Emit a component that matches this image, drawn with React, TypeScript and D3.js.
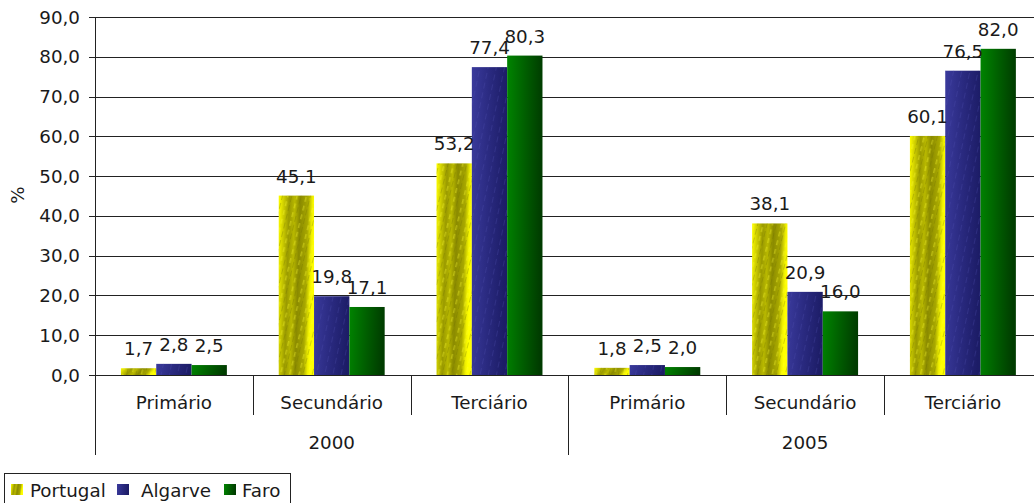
import React from "react";
import * as d3 from "d3";

const years = ["2000", "2005"];
const sectors = ["Primário", "Secundário", "Terciário"];
const seriesNames = ["Portugal", "Algarve", "Faro"];
const portugal = [1.7, 45.1, 53.2, 1.8, 38.1, 60.1];
const algarve = [2.8, 19.8, 77.4, 2.5, 20.9, 76.5];
const faro = [2.5, 17.1, 80.3, 2.0, 16.0, 82.0];
const yTicks = [0, 10, 20, 30, 40, 50, 60, 70, 80, 90];

const W = 1034;
const H = 503;
const FONT = "DejaVu Sans, Verdana, sans-serif";
const TXT = "#1a1a1a";
const FS = 18.3;

const fmt = (v: number) => d3.format(".1f")(v).replace(".", ",");

export default function App() {
  const left = 95;
  const catW = 157.8;
  const keys = years.flatMap((y) => sectors.map((s) => `${y}|${s}`));
  const x0 = d3.scaleBand<string>().domain(keys).range([left, left + catW * keys.length]).padding(0);
  const x1 = d3
    .scaleBand<string>()
    .domain(seriesNames)
    .range([0, x0.bandwidth()])
    .paddingInner(0)
    .paddingOuter(0.734);
  const y = d3.scaleLinear().domain([0, 90]).range([375, 17]);
  const values = [portugal, algarve, faro];
  const fills = ["url(#gPor)", "url(#gAlg)", "url(#gFar)"];
  const overlays = ["url(#pPor)", "url(#pAlg)", null];
  const right = left + catW * keys.length;
  const yearW = catW * sectors.length;

  return (
    <svg
      width={W}
      height={H}
      style={{ position: "absolute", left: 0, top: 0, background: "#fff" }}
      fontFamily={FONT}
    >
      <defs>
        <linearGradient id="gPor" x1="0" y1="0" x2="1" y2="0.15">
          <stop offset="0" stopColor="#ffff00" />
          <stop offset="0.12" stopColor="#d6d600" />
          <stop offset="0.3" stopColor="#9a9a00" />
          <stop offset="0.45" stopColor="#b8b800" />
          <stop offset="0.6" stopColor="#8a8a00" />
          <stop offset="0.82" stopColor="#a8a800" />
          <stop offset="0.94" stopColor="#f0f000" />
          <stop offset="1" stopColor="#ffff00" />
        </linearGradient>
        <linearGradient id="gAlg" x1="0" y1="0" x2="1" y2="0.1">
          <stop offset="0" stopColor="#3a3a9c" />
          <stop offset="0.5" stopColor="#2a2a80" />
          <stop offset="1" stopColor="#1c1c66" />
        </linearGradient>
        <linearGradient id="gFar" x1="0" y1="0" x2="1" y2="0.1">
          <stop offset="0" stopColor="#008400" />
          <stop offset="0.55" stopColor="#005c00" />
          <stop offset="1" stopColor="#003c00" />
        </linearGradient>
        <pattern id="pPor" width="9" height="9" patternUnits="userSpaceOnUse" patternTransform="rotate(14)">
          <rect x="2" y="0" width="1.5" height="5" fill="#ffff30" opacity="0.35" />
          <rect x="6" y="3" width="1" height="6" fill="#707000" opacity="0.3" />
        </pattern>
        <pattern id="pAlg" width="8" height="10" patternUnits="userSpaceOnUse" patternTransform="rotate(12)">
          <rect x="3" y="0" width="1" height="6" fill="#5050b0" opacity="0.3" />
        </pattern>
      </defs>

      {/* gridlines */}
      {yTicks.map((t) => (
        <g key={t}>
          <line x1={left - 6} x2={right} y1={Math.round(y(t)) + 0.5} y2={Math.round(y(t)) + 0.5} stroke="#222" strokeWidth={1} />
          <text x={80} y={y(t)} dy="0.36em" textAnchor="end" fontSize={FS} fill={TXT}>
            {fmt(t)}
          </text>
        </g>
      ))}

      {/* bars */}
      {keys.map((k, i) =>
        seriesNames.map((s, j) => {
          const v = values[j][i];
          const bx = (x0(k) as number) + (x1(s) as number);
          const ov = overlays[j];
          return (
            <g key={k + s}>
              <rect x={bx} y={y(v)} width={x1.bandwidth()} height={y(0) - y(v)} fill={fills[j]} />
              {ov && <rect x={bx} y={y(v)} width={x1.bandwidth()} height={y(0) - y(v)} fill={ov} />}
            </g>
          );
        })
      )}

      {/* value labels */}
      {keys.map((k, i) =>
        seriesNames.map((s, j) => {
          const v = values[j][i];
          const cx = (x0(k) as number) + (x1(s) as number) + x1.bandwidth() / 2;
          return (
            <text key={"l" + k + s} x={cx} y={y(v) - 13} textAnchor="middle" fontSize={FS} fill={TXT}>
              {fmt(v)}
            </text>
          );
        })
      )}

      {/* axes */}
      <line x1={left + 0.5} x2={left + 0.5} y1={17} y2={455} stroke="#222" />
      <line x1={left} x2={right} y1={375.5} y2={375.5} stroke="#222" />

      {/* category separators & labels */}
      {keys.map((k, i) => {
        const xs = x0(k) as number;
        const sIdx = i % sectors.length;
        return (
          <g key={"c" + k}>
            {sIdx !== 0 && (
              <line x1={Math.round(xs) + 0.5} x2={Math.round(xs) + 0.5} y1={375} y2={415} stroke="#222" />
            )}
            <text x={xs + catW / 2} y={409} textAnchor="middle" fontSize={FS} fill={TXT}>
              {sectors[sIdx]}
            </text>
          </g>
        );
      })}
      {years.map((yr, i) => {
        const xs = left + i * yearW;
        return (
          <g key={yr}>
            <line x1={Math.round(xs) + 0.5} x2={Math.round(xs) + 0.5} y1={375} y2={455} stroke="#222" />
            <text x={xs + yearW / 2} y={449} textAnchor="middle" fontSize={FS} fill={TXT}>
              {yr}
            </text>
          </g>
        );
      })}
      <line x1={Math.round(right) + 0.5} x2={Math.round(right) + 0.5} y1={375} y2={455} stroke="#222" />

      {/* y axis title */}
      <text transform="translate(24,195) rotate(-90)" textAnchor="middle" fontSize={FS} fill={TXT}>
        %
      </text>

      {/* legend */}
      <rect x={4.5} y={473.5} width={286} height={34} fill="#fff" stroke="#222" />
      {seriesNames.map((s, j) => {
        const lx = [11, 117, 224][j];
        const tx = [30, 141, 242][j];
        return (
          <g key={"lg" + s}>
            <rect x={lx} y={484} width={12} height={11} fill={fills[j]} />
            <text x={tx} y={497} fontSize={FS} fill={TXT}>
              {s}
            </text>
          </g>
        );
      })}
    </svg>
  );
}
